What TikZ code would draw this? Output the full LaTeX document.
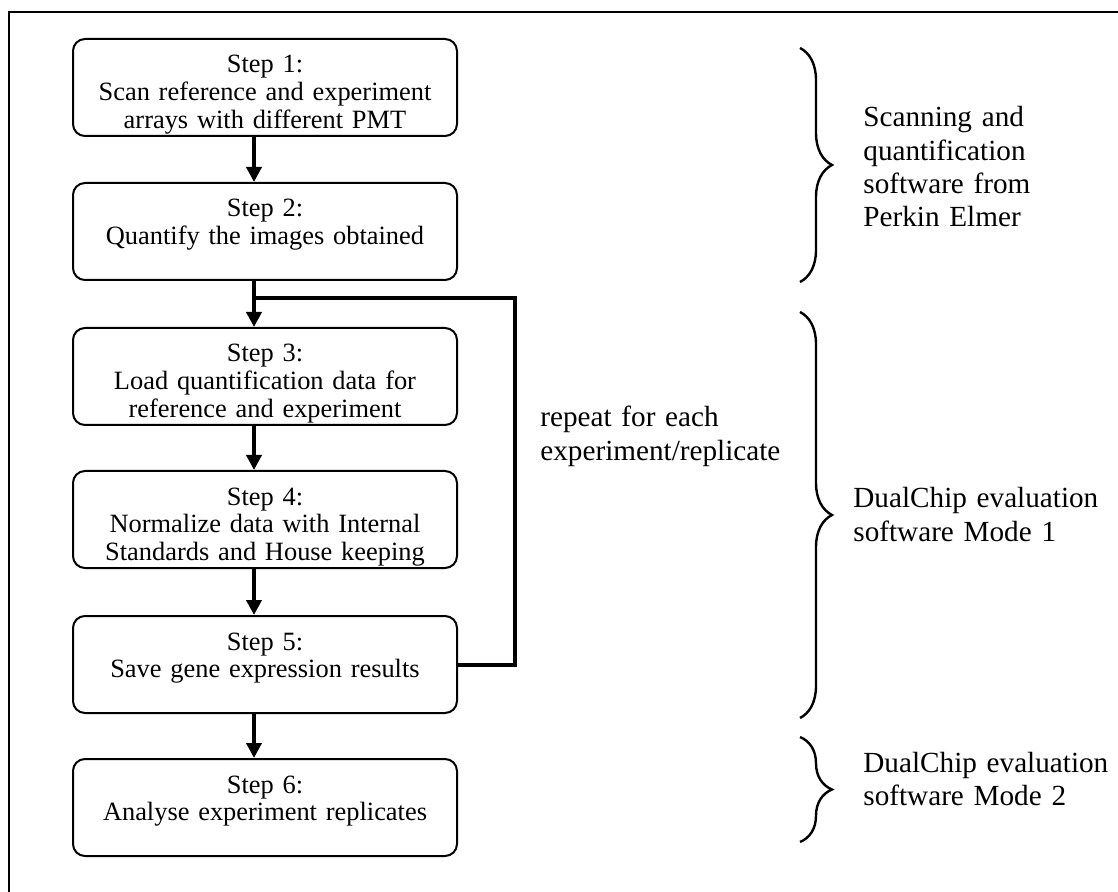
\documentclass[tikz,border=0pt]{standalone}
\usepackage{fontspec}
\setmainfont{Liberation Serif}
\usepackage{tikz}
\usetikzlibrary{arrows.meta,decorations.pathreplacing}

\begin{document}
\begin{tikzpicture}[x=0.5pt,y=-0.5pt,
    stepbox/.style={draw,line width=1pt,rounded corners=6pt,anchor=north,
      align=center,text width=184pt,inner xsep=4pt,inner ysep=0pt,
      text height=17pt,text depth=31.5pt,
      font=\fontsize{13.2}{13.8}\selectfont},
    flow/.style={line width=2pt,-{Triangle[length=7.5pt,width=7.5pt]}},
    loopline/.style={line width=2pt},
    sidebrace/.style={decorate,decoration={brace,amplitude=16pt},line width=1.2pt},
    sidetext/.style={anchor=base west,align=left,text width=140pt,inner sep=0pt,
      font=\fontsize{14.6}{16.6}\selectfont}]
    \useasboundingbox (0,0) rectangle (1118,892);
    \draw[line width=1pt] (9,892) -- (9,12) -- (1118,12);

    \node[stepbox] (step1) at (265,38) {Step 1:\\Scan reference and experiment\\arrays with different PMT};
    \node[stepbox] (step2) at (265,182) {Step 2:\\Quantify the images obtained};
    \node[stepbox] (step3) at (265,327) {Step 3:\\Load quantification data for\\reference and experiment};
    \node[stepbox] (step4) at (265,470) {Step 4:\\Normalize data with Internal\\Standards and House keeping};
    \node[stepbox] (step5) at (265,615) {Step 5:\\Save gene expression results};
    \node[stepbox] (step6) at (265,758) {Step 6:\\Analyse experiment replicates};

    \draw[flow] ([xshift=-5.5pt]step1.south) -- ([xshift=-5.5pt]step2.north);
    \draw[flow] ([xshift=-5.5pt]step2.south) -- ([xshift=-5.5pt]step3.north);
    \draw[flow] ([xshift=-5.5pt]step3.south) -- ([xshift=-5.5pt]step4.north);
    \draw[flow] ([xshift=-5.5pt]step4.south) -- ([xshift=-5.5pt]step5.north);
    \draw[flow] ([xshift=-5.5pt]step5.south) -- ([xshift=-5.5pt]step6.north);

    % feedback from step 5 back above step 3
    \coordinate (junction) at (254,298);
    \coordinate (looptop) at (515,298);
    \draw[loopline] (step5.east) -| (looptop) -- (junction);
    \node[sidetext] (repeat) at (540,427) {repeat for each\\experiment/replicate};

    \draw[sidebrace] (800,48) -- (800,282);
    \draw[sidebrace] (800,312) -- (800,718);
    \draw[sidebrace] (800,737) -- (800,842);

    \node[sidetext] (scanning) at (863,127) {Scanning and\\quantification\\software from\\Perkin Elmer};
    \node[sidetext] (modeone) at (853,508) {DualChip evaluation\\software Mode 1};
    \node[sidetext] (modetwo) at (863,772) {DualChip evaluation\\software Mode 2};
\end{tikzpicture}
\end{document}
